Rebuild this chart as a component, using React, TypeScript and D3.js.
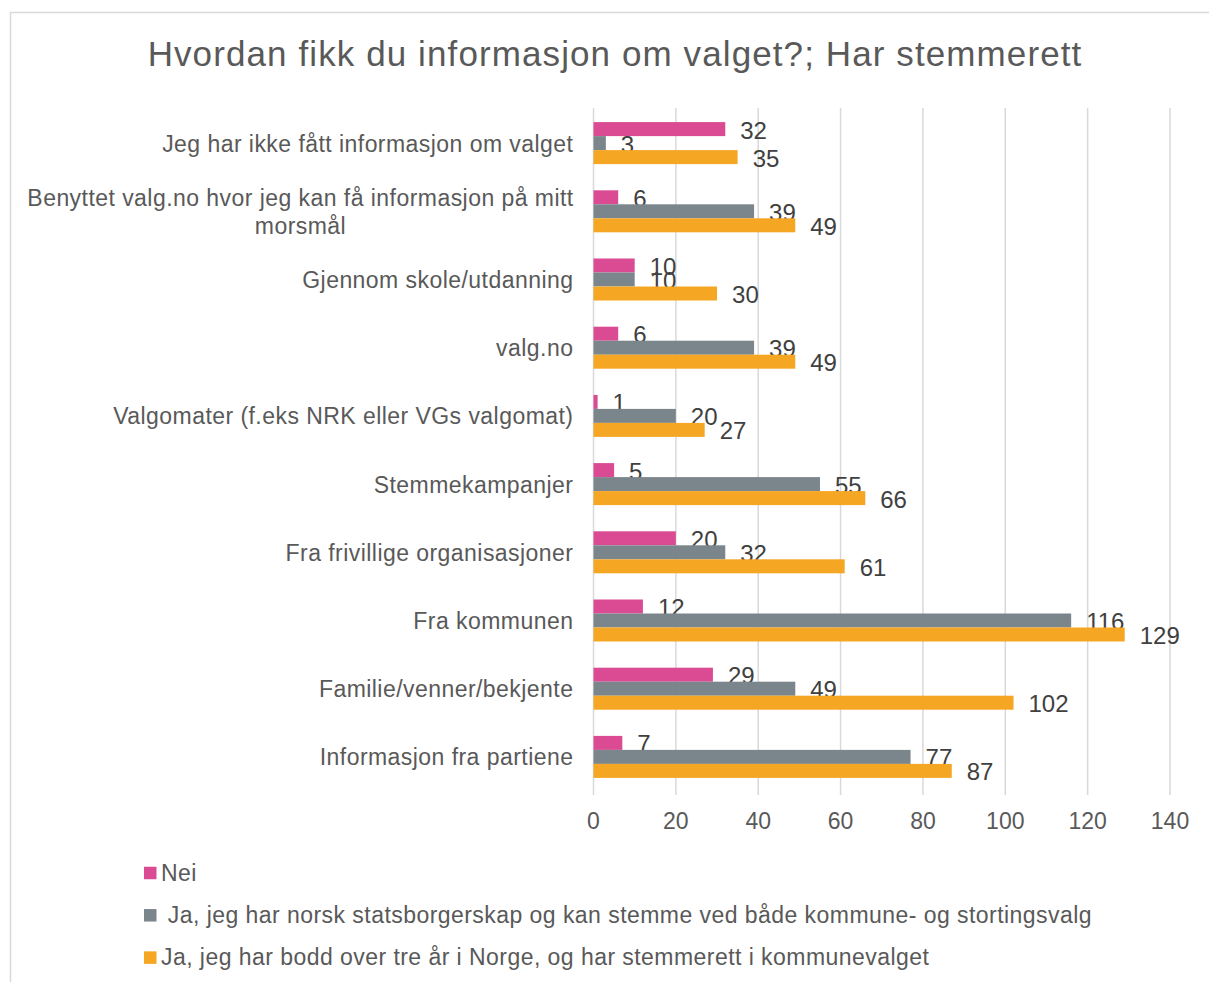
import React from "react";
import * as d3 from "d3";

const categories: string[][] = [
  ["Jeg har ikke fått informasjon om valget"],
  ["Benyttet valg.no hvor jeg kan få informasjon på mitt", "morsmål"],
  ["Gjennom skole/utdanning"],
  ["valg.no"],
  ["Valgomater (f.eks NRK eller VGs valgomat)"],
  ["Stemmekampanjer"],
  ["Fra frivillige organisasjoner"],
  ["Fra kommunen"],
  ["Familie/venner/bekjente"],
  ["Informasjon fra partiene"],
];

const seriesNames = [
  "Nei",
  " Ja, jeg har norsk statsborgerskap og kan stemme ved både kommune- og stortingsvalg",
  "Ja, jeg har bodd over tre år i Norge, og har stemmerett i kommunevalget",
];
const seriesColors = ["#DA4B93", "#7B868C", "#F5A623"];

const nei = [32, 6, 10, 6, 1, 5, 20, 12, 29, 7];
const jaStats = [3, 39, 10, 39, 20, 55, 32, 116, 49, 77];
const jaBodd = [35, 49, 30, 49, 27, 66, 61, 129, 102, 87];
const seriesValues = [nei, jaStats, jaBodd];

const xTicks = [0, 20, 40, 60, 80, 100, 120, 140];

const W = 1209;
const H = 982;
const font = "Arial, 'Liberation Sans', sans-serif";

export default function App() {
  const x = d3.scaleLinear().domain([0, 140]).range([593.5, 1170]);
  const y = d3
    .scaleBand<number>()
    .domain(d3.range(categories.length))
    .range([109, 791])
    .paddingInner(0)
    .paddingOuter(0);
  const barH = 14;
  const catFs = 23;
  const catLs = 0.45;

  return (
    <svg
      width={W}
      height={H}
      style={{ position: "absolute", left: 0, top: 0, display: "block" }}
      fontFamily={font}
    >
      <rect x={0} y={0} width={W} height={H} fill="#fff" />
      <rect x={10.5} y={12.5} width={W + 10} height={H + 10} fill="#fff" stroke="#D9D9D9" strokeWidth={1.5} />
      <text x={615} y={66} textAnchor="middle" fontSize={35} letterSpacing={1.1} fill="#595959">
        Hvordan fikk du informasjon om valget?; Har stemmerett
      </text>
      {xTicks.map((t) => (
        <g key={t}>
          <line x1={x(t)} x2={x(t)} y1={108} y2={795} stroke="#D9D9D9" strokeWidth={1.5} />
          <text x={x(t)} y={829} textAnchor="middle" fontSize={23} fill="#595959">
            {t}
          </text>
        </g>
      ))}
      {categories.map((lines, i) => {
        const cy = (y(i) as number) + y.bandwidth() / 2;
        const lh = 28;
        const startY = cy - ((lines.length - 1) * lh) / 2;
        if (lines.length === 1) {
          return (
            <text key={i} x={573 + catLs} y={cy + 8.5} textAnchor="end" fontSize={catFs} letterSpacing={catLs} fill="#595959">
              {lines[0]}
            </text>
          );
        }
        return (
          <text key={i} x={300.5} textAnchor="middle" fontSize={catFs} letterSpacing={catLs} fill="#595959">
            {lines.map((l, j) => (
              <tspan key={j} x={300.5} y={startY + j * lh + 8.5}>
                {l}
              </tspan>
            ))}
          </text>
        );
      })}
      {seriesValues.map((vals, s) =>
        vals.map((v, i) => {
          const cy = (y(i) as number) + y.bandwidth() / 2;
          const top = cy - 1.5 * barH + s * barH;
          return (
            <g key={`${s}-${i}`}>
              <rect x={x(0)} y={top} width={x(v) - x(0)} height={barH} fill={seriesColors[s]} />
              <text x={x(v) + 15} y={top + barH / 2 + 9.5} fontSize={24} fill="#404040">
                {v}
              </text>
            </g>
          );
        })
      )}
      {seriesNames.map((n, s) => {
        const ly = 873 + s * 42.3;
        return (
          <g key={s}>
            <rect x={144} y={ly - 6.25} width={12.5} height={12.5} fill={seriesColors[s]} />
            <text x={161} y={ly + 7.5} fontSize={catFs} letterSpacing={catLs} fill="#595959" style={{ whiteSpace: "pre" }}>
              {n}
            </text>
          </g>
        );
      })}
    </svg>
  );
}
